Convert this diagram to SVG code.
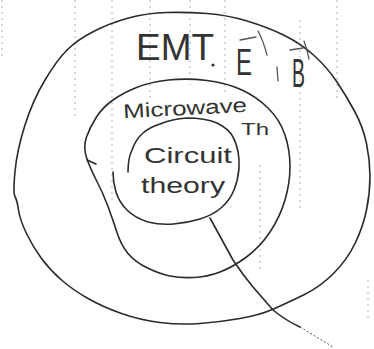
<svg xmlns="http://www.w3.org/2000/svg" width="374" height="349" viewBox="0 0 374 349">
<style>
.ring{fill:none;stroke:#2a2a2a;stroke-width:1.6;stroke-linejoin:round;stroke-linecap:round}
.grid{stroke:#9a9a9a;stroke-width:0.8;stroke-dasharray:2 4;fill:none}
.hand{font-family:"Liberation Sans",Arial,sans-serif;fill:#333}
.vec{fill:none;stroke:#555;stroke-width:1.3;stroke-linecap:round}
</style>
<rect width="374" height="349" fill="#ffffff"/>
<g id="scan-lines">
<line class="grid" x1="2" y1="0" x2="2" y2="60"/>
<line class="grid" x1="75" y1="0" x2="75" y2="118"/>
<line class="grid" x1="112" y1="0" x2="112" y2="200"/>
<line class="grid" x1="150" y1="0" x2="150" y2="100"/>
<line class="grid" x1="190" y1="0" x2="190" y2="85"/>
<line class="grid" x1="225" y1="0" x2="225" y2="95"/>
<line class="grid" x1="300" y1="20" x2="300" y2="210"/>
<line class="grid" x1="337" y1="0" x2="337" y2="100"/>
<line class="grid" x1="260" y1="165" x2="260" y2="270"/>
<line class="grid" x1="368" y1="280" x2="368" y2="320"/>
</g>
<g id="emt">
<path class="ring" d="M15,196.5 Q13,193 15,171.5 Q17,150 25,125 Q33,100 45,80 Q57,60 67,50 Q77,40 93.5,31.5 Q110,23 128.5,18 Q147,13 167,12.5 Q187,12 207,13.5 Q227,15 247,21 Q267,27 283.5,35 Q300,43 313.5,55 Q327,67 337,82 Q347,97 355,112 Q363,127 366.5,143.5 Q370,160 370,176.5 Q370,193 366.5,210 Q363,227 355,243.5 Q347,260 333.5,273.5 Q320,287 303.5,295 Q287,303 273.5,309 Q260,315 240,318.5 Q220,322 200,323.5 Q180,325 160,322.5 Q140,320 121.5,313.5 Q103,307 88,298.5 Q73,290 61.5,280 Q50,270 41.5,258.5 Q33,247 26.5,233.5 Q20,220 18.5,210 Q17,200 15,196.5 Z"/>
<text class="hand" x="136" y="60" font-size="36" textLength="78" lengthAdjust="spacingAndGlyphs">EMT</text>
<circle cx="213" cy="65" r="1.6" fill="#333"/>
<text class="hand" x="236" y="75" font-size="37" fill="#555" textLength="16" lengthAdjust="spacingAndGlyphs">E</text>
<path class="vec" d="M240,40 L256,37 M258,31 Q263,40 267,55"/>
<path class="vec" d="M277,67 L278,81"/>
<text class="hand" x="292" y="87" font-size="40" fill="#555" textLength="13" lengthAdjust="spacingAndGlyphs">B</text>
<path class="vec" d="M290,50 L303,48 M304,41 Q307,49 309,59"/>
</g>
<g id="microwave">
<path class="ring" d="M86.5,157.5 Q83,147 86.5,137 Q90,127 96.5,117 Q103,107 113,100 Q123,93 136.5,87.5 Q150,82 168.5,80 Q187,78 207,80.5 Q227,83 242,90 Q257,97 268.5,108.5 Q280,120 285,135 Q290,150 290,166.5 Q290,183 285,200 Q280,217 270,232 Q260,247 246.5,257 Q233,267 220,272 Q207,277 193.5,277.5 Q180,278 170,276 Q160,274 147.5,268 Q135,262 128,253.5 Q121,245 117,232.5 Q113,220 108,206.5 Q103,193 96.5,180.5 Q90,168 86.5,157.5 Z"/>
<path class="ring" stroke-width="1.2" d="M87,160 L96,164"/>
<text class="hand" x="123" y="115" font-size="20" textLength="124" lengthAdjust="spacingAndGlyphs" transform="rotate(-3 185 108)">Microwave</text>
<text class="hand" x="241" y="135" font-size="16" textLength="28" lengthAdjust="spacingAndGlyphs">Th</text>
</g>
<g id="circuit">
<path class="ring" d="M128,172 Q128,158 132,150 Q136,139 143,133 Q150,127 160,124 Q172,119 187,118 Q205,118 217,123 Q229,129 233,137 Q240,150 239,168.5 Q238,180 234,190 Q230,200 221.5,207.5 Q213,215 200,219 Q187,223 173.5,224 Q160,225 148,222 Q135,218 127,210 Q119,202 116,192 Q113,182 113,172"/>
<text class="hand" x="144" y="163" font-size="22" textLength="88" lengthAdjust="spacingAndGlyphs">Circuit</text>
<text class="hand" x="141" y="193" font-size="22" textLength="84" lengthAdjust="spacingAndGlyphs">theory</text>
</g>
<g id="connectors">
<path class="ring" stroke-width="1.2" d="M210,218 Q222,240 233,260 Q243,275 253,287 L273,310 Q285,320 300,327"/>
<path fill="none" stroke="#555" stroke-width="1" stroke-dasharray="2 2" d="M300,327 L333,347"/>
</g>
</svg>
